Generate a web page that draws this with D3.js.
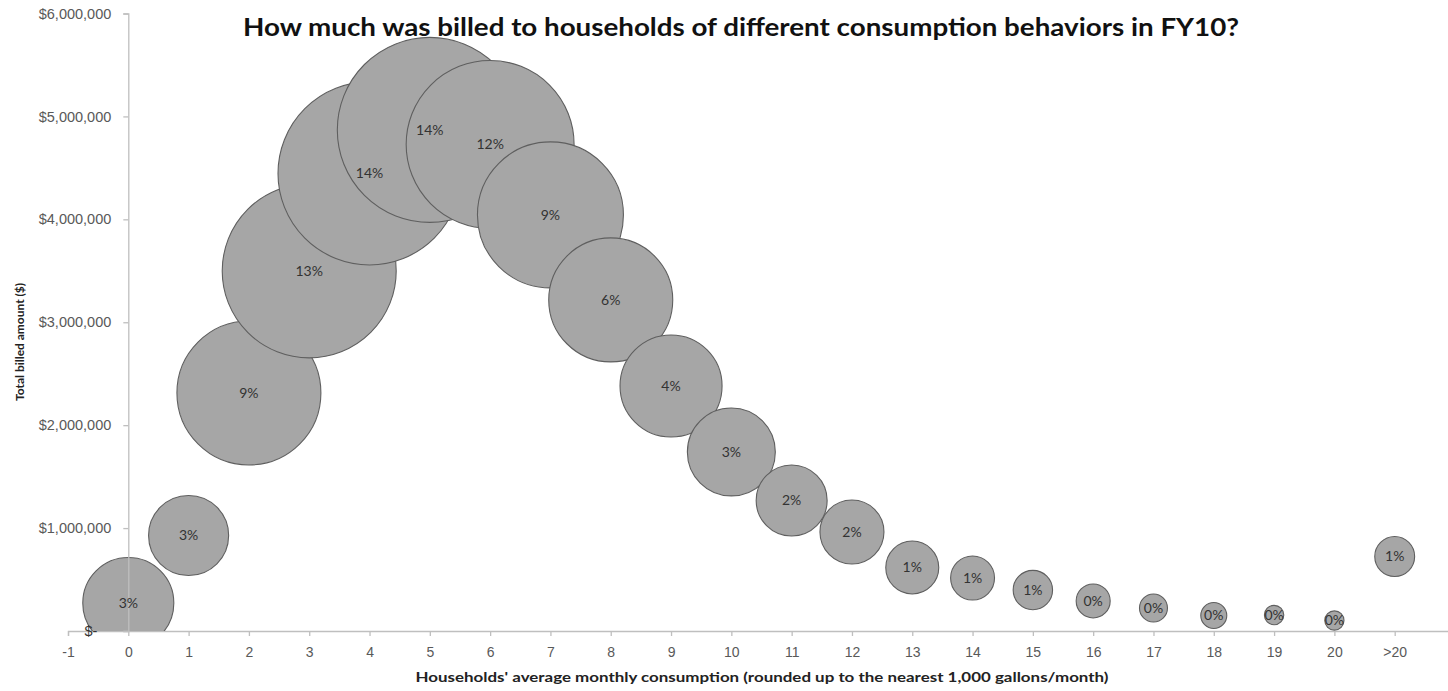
<!DOCTYPE html>
<html>
<head>
<meta charset="utf-8">
<script src="https://cdn.jsdelivr.net/npm/d3@7"></script>
<style>
  html, body { margin: 0; padding: 0; background: #fff; }
  svg { display: block; font-family: Lato, "Open Sans", sans-serif; }
</style>
</head>
<body>
<svg id="chart" width="1448" height="691"></svg>
<script>
// Consumption bins (thousand gallons / month); the last bin collects everything above 20
const consumption = [0, 1, 2, 3, 4, 5, 6, 7, 8, 9, 10, 11, 12, 13, 14, 15, 16, 17, 18, 19, 20, 21];
const tickLabels = ["-1", "0", "1", "2", "3", "4", "5", "6", "7", "8", "9", "10",
                    "11", "12", "13", "14", "15", "16", "17", "18", "19", "20", ">20"];
// Total amount billed in each bin ($)
const billed = [272000, 928000, 2313000, 3499000, 4446000, 4869000, 4728000, 4043000,
                3217000, 2381000, 1740000, 1268000, 962000, 617000, 515000, 398000,
                292000, 224000, 151000, 155000, 102000, 724000];
// Share of households in each bin (bubble area)
const householdShare = [0.0344, 0.0266, 0.086, 0.1256, 0.139, 0.142, 0.117, 0.0884,
                        0.0638, 0.0432, 0.0321, 0.0209, 0.017, 0.01165, 0.008, 0.00644,
                        0.0048, 0.00325, 0.0028, 0.00156, 0.00153, 0.0066];
const yTicks = [0, 1000000, 2000000, 3000000, 4000000, 5000000, 6000000];

const data = consumption.map((c, i) => ({ c, billed: billed[i], share: householdShare[i] }));

const svg = d3.select("#chart");
const plot = { left: 68, right: 1455, top: 13.5, bottom: 631 };

const x = d3.scaleLinear().domain([-1, 22]).range([plot.left, plot.right]);
const y = d3.scaleLinear().domain([0, 6000000]).range([plot.bottom, plot.top]);
const r = d3.scaleSqrt().domain([0, 0.142]).range([0, 92.5]);

const axisColor = "#bfbfbf";
const tickTextColor = "#595959";

// Y axis at x = 0
const money = d3.format(",");
const yAxis = d3.axisLeft(y)
  .tickValues(yTicks)
  .tickSize(5)
  .tickPadding(12)
  .tickFormat(d => d === 0 ? "$-" : "$" + money(d));
const gy = svg.append("g")
  .attr("transform", `translate(${x(0)},0)`)
  .call(yAxis);
gy.select(".domain").attr("stroke", axisColor).attr("stroke-width", 1.3);
gy.selectAll(".tick line").attr("stroke", axisColor).attr("stroke-width", 1.3);
gy.selectAll(".tick text")
  .attr("fill", d => d === 0 ? "#333" : tickTextColor)
  .style("font-size", "14.5px")
  .attr("dx", d => d === 0 ? -14 : 0);

// X axis along zero billing
const xAxis = d3.axisBottom(x)
  .tickValues(d3.range(-1, 22))
  .tickSize(5)
  .tickPadding(11)
  .tickFormat((d, i) => tickLabels[i]);
const gx = svg.append("g")
  .attr("transform", `translate(0,${y(0)})`)
  .call(xAxis);
gx.select(".domain").attr("stroke", axisColor).attr("stroke-width", 1.3);
gx.selectAll(".tick line").attr("stroke", axisColor).attr("stroke-width", 1.3);
gx.selectAll(".tick text").attr("fill", tickTextColor).style("font-size", "14px");

// Bubbles, clipped to the plot area
svg.append("clipPath").attr("id", "plot-clip")
  .append("rect")
  .attr("x", plot.left).attr("y", plot.top)
  .attr("width", plot.right - plot.left).attr("height", plot.bottom - plot.top);

const bubbles = svg.append("g").attr("clip-path", "url(#plot-clip)");
bubbles.selectAll("circle")
  .data(data)
  .join("circle")
  .attr("cx", d => x(d.c))
  .attr("cy", d => y(d.billed))
  .attr("r", d => r(d.share))
  .attr("fill", "#a6a6a6")
  .attr("stroke", "#5f5f5f")
  .attr("stroke-width", 1.1);

// "$-" zero label sits on top of the first bubble
gy.raise();

const pct = d3.format(".0%");
svg.append("g").selectAll("text")
  .data(data)
  .join("text")
  .attr("x", d => x(d.c))
  .attr("y", d => y(d.billed))
  .attr("dy", "0.35em")
  .attr("text-anchor", "middle")
  .attr("fill", "#333")
  .style("font-size", "14px")
  .text(d => pct(d.share));

// Titles
svg.append("text")
  .attr("x", 741).attr("y", 36)
  .attr("text-anchor", "middle")
  .attr("fill", "#111")
  .style("font-size", "24px").style("font-weight", "bold")
  .attr("textLength", 996).attr("lengthAdjust", "spacingAndGlyphs")
  .text("How much was billed to households of different consumption behaviors in FY10?");

svg.append("text")
  .attr("x", 762).attr("y", 682)
  .attr("text-anchor", "middle")
  .attr("fill", "#222")
  .style("font-size", "14px").style("font-weight", "bold")
  .attr("textLength", 693).attr("lengthAdjust", "spacingAndGlyphs")
  .text("Households' average monthly consumption (rounded up to the nearest 1,000 gallons/month)");

svg.append("text")
  .attr("transform", "translate(24,342) rotate(-90)")
  .attr("text-anchor", "middle")
  .attr("fill", "#222")
  .style("font-size", "12px").style("font-weight", "bold")
  .attr("textLength", 118).attr("lengthAdjust", "spacingAndGlyphs")
  .text("Total billed amount ($)");
</script>
</body>
</html>
